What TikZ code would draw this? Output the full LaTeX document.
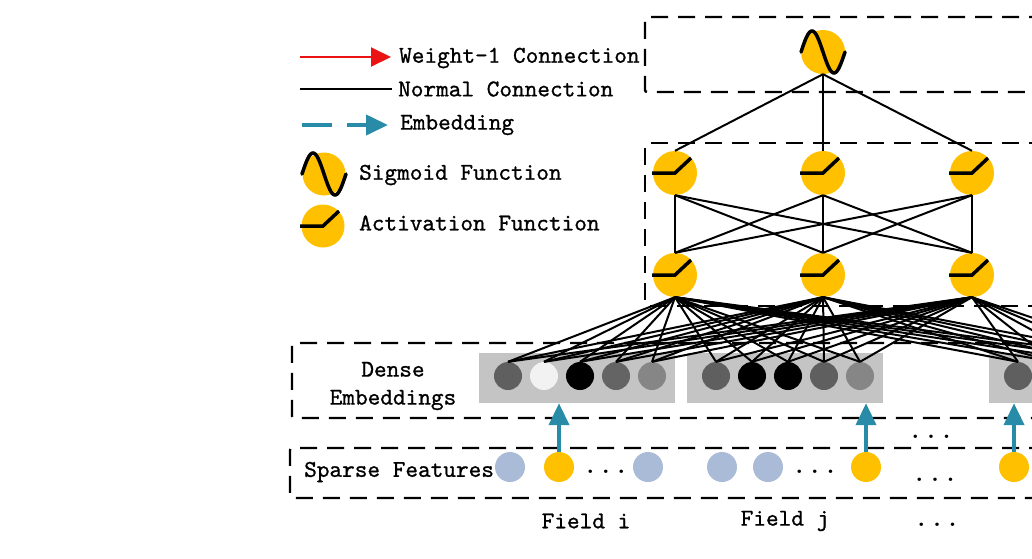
\documentclass[tikz,border=0pt]{standalone}
\usepackage{fontspec}
\newfontfamily\lblfont[FakeBold=0.9]{lmmono10-regular.otf}
\usetikzlibrary{arrows.meta}
\definecolor{yel}{RGB}{255,192,0}
\definecolor{lblue}{RGB}{170,187,216}
\definecolor{tealc}{RGB}{40,140,168}
\definecolor{gboxc}{RGB}{196,196,196}
\definecolor{redc}{RGB}{235,20,20}
\definecolor{ga}{RGB}{95,95,95}
\definecolor{gw}{RGB}{242,242,242}
\definecolor{gb}{RGB}{0,0,0}
\definecolor{gc}{RGB}{100,100,100}
\definecolor{gd}{RGB}{134,134,134}
\begin{document}
\begin{tikzpicture}[x=1pt,y=-1pt,
  yc/.style={circle,fill=yel,inner sep=0pt,minimum size=44pt},
  ec/.style={circle,inner sep=0pt,minimum size=28pt},
  sc/.style={circle,inner sep=0pt,minimum size=30pt},
  gbox/.style={rectangle,fill=gboxc,inner sep=0pt,minimum width=196pt,minimum height=50pt},
  dbox/.style={line width=2.4pt,dash pattern=on 17pt off 10pt,rounded corners=2pt},
  conn/.style={line width=2pt},
  lbl/.style={font=\fontsize{24.1}{28}\selectfont\lblfont,inner sep=0pt},
  dots/.style={font=\fontsize{24}{28}\selectfont\bfseries,inner sep=0pt},
  emb/.style={tealc,line width=4pt,-{Triangle[length=22pt,width=20pt]}},
  relu/.pic={\draw[line width=3.5pt] (-23,0) -- (0,0) -- (16,-15);},
  sigm/.pic={\draw[line width=3.5pt,line cap=round] plot[domain=-22:22,samples=45,smooth] (\x,{-21*sin(360*(\x+22)/44)});}
]
\useasboundingbox (0,0) rectangle (1032,558);
\clip (0,0) rectangle (1032,558);

% dashed group boxes
\draw[dbox] (1100,17) -- (645,17) -- (645,92) -- (1100,92);
\draw[dbox] (1100,143) -- (645,143) -- (645,306) -- (1100,306);
\draw[dbox] (1100,343) -- (292,343) -- (292,418) -- (1100,418);
\draw[dbox] (1100,448) -- (290,448) -- (290,498) -- (1100,498);

% legend
\coordinate (ra) at (300,57);
\coordinate (rb) at (391,57);
\draw[redc,line width=2pt,-{Triangle[length=20pt,width=19pt]}] (ra) -- (rb);
\node[lbl,anchor=west] (t1) at (399,58) {Weight-1 Connection};
\coordinate (na) at (300,89);
\coordinate (nb) at (392,89);
\draw[line width=2pt] (na) -- (nb);
\node[lbl,anchor=west] (t2) at (398,89) {Normal Connection};
\coordinate (ea) at (302,125);
\coordinate (eb) at (388,125);
\draw[emb,dash pattern=on 30pt off 15pt] (ea) -- (eb);
\node[lbl,anchor=west] (t3) at (400,125) {Embedding};
\node[yc,minimum size=43pt] (ls) at (324,174) {};
\pic at (ls) {sigm};
\node[lbl,anchor=west] (t4) at (359,175) {Sigmoid Function};
\node[yc,minimum size=43pt] (la) at (323,226) {};
\pic at (la) {relu};
\node[lbl,anchor=west] (t5) at (359,223) {Activation Function};

% network nodes
\node[yc] (out) at (823,52) {};
\node[yc] (t1n) at (675,173) {};
\node[yc] (t2n) at (823,173) {};
\node[yc] (t3n) at (972,173) {};
\node[yc] (b1) at (675,275) {};
\node[yc] (b2) at (823,275) {};
\node[yc] (b3) at (972,275) {};

% embedding boxes
\node[gbox] (g1) at (577,378) {};
\node[gbox] (g2) at (785,378) {};
\node[gbox] (g3) at (1087,378) {};

\foreach \xx/\cc [count=\i] in {508/ga,544/gw,580/gb,616/gc,652/gd,
  716/ga,752/gb,788/gb,824/ga,860/gd,
  1018/ga,1054/gb,1090/gc,1126/gd,1162/ga}
  \node[ec,fill=\cc] (e\i) at (\xx,376) {};

% connections
\foreach \t in {t1n,t2n,t3n} \draw[conn] (out.south) -- (\t.north);
\foreach \t in {t1n,t2n,t3n} \foreach \b in {b1,b2,b3} \draw[conn] (\t.south) -- (\b.north);
\foreach \b in {b1,b2,b3} \foreach \i in {1,...,15} \draw[conn] (\b.south) -- (e\i.north);

% icons
\foreach \n in {t1n,t2n,t3n,b1,b2,b3} \pic at (\n) {relu};
\pic at (out) {sigm};

% sparse features
\node[sc,fill=lblue] (s1) at (510,467) {};
\node[sc,fill=yel] (s2) at (559,467) {};
\node[dots] (d1) at (606,472) {.\,\,.\,\,.};
\node[sc,fill=lblue] (s3) at (648,467) {};
\node[sc,fill=lblue] (s4) at (722,467) {};
\node[sc,fill=lblue] (s5) at (768,467) {};
\node[dots] (d2) at (815,472) {.\,\,.\,\,.};
\node[sc,fill=yel] (s6) at (866,467) {};
\node[sc,fill=yel] (s7) at (1014,467) {};

\draw[emb] (s2.north) -- (s2.north |- g1.south);
\draw[emb] (s6.north) -- (s6.north |- g2.south);
\draw[emb] (s7.north) -- (s7.north |- g3.south);

\node[dots] (d3) at (931,437) {.\,\,.\,\,.};
\node[dots] (d4) at (935,480) {.\,\,.\,\,.};
\node[dots] (d5) at (937,525) {.\,\,.\,\,.};

% labels
\node[lbl,align=center] (dl) at (393,386) {Dense\\Embeddings};
\node[lbl,anchor=west] (sf) at (304,472) {Sparse Features};
\node[lbl] (fi) at (586,521) {Field i};
\node[lbl] (fj) at (785,521) {Field j};
\end{tikzpicture}
\end{document}
